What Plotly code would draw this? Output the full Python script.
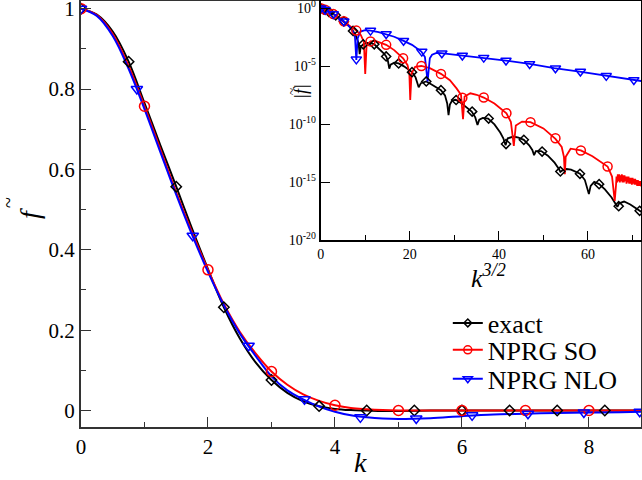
import plotly.graph_objects as go

# ---------------- main panel data (k, f~) ----------------
k_line = [0, 0.25, 0.5, 0.75, 1.0, 1.25, 1.5, 1.75, 2.0, 2.25, 2.5, 2.75, 3.0, 3.25, 3.5,
          3.75, 4.0, 4.25, 4.5, 4.75, 5.0, 5.5, 6.0, 6.5, 7.0, 7.5, 8.0, 8.5, 8.82]
exact_line = [1.000, 0.985, 0.943, 0.868, 0.765, 0.660, 0.557, 0.452, 0.352, 0.257, 0.180, 0.120,
              0.076, 0.044, 0.023, 0.011, 0.004, 0.001, 0.0, -0.001, -0.001, 0, 0, 0, 0, 0, 0, 0, 0]
so_line = [1.000, 0.984, 0.937, 0.857, 0.757, 0.650, 0.543, 0.443, 0.350, 0.265, 0.196, 0.142,
           0.097, 0.064, 0.040, 0.024, 0.013, 0.006, 0.003, 0.001, 0.0, 0, 0, 0, 0, 0, 0, 0, 0]
nlo_line = [1.000, 0.982, 0.932, 0.850, 0.750, 0.643, 0.537, 0.437, 0.345, 0.262, 0.192, 0.136,
            0.085, 0.050, 0.028, 0.010, -0.003, -0.012, -0.017, -0.020, -0.021, -0.019, -0.014,
            -0.010, -0.008, -0.006, -0.005, -0.004, -0.003]

k_exact_pts = [0, 0.75, 1.5, 2.25, 3.0, 3.75, 4.5, 5.25, 6.0, 6.75, 7.5, 8.25]
exact_pts = [1.0, 0.868, 0.557, 0.257, 0.076, 0.011, 0.0, 0.0, 0.0, 0.0, 0.0, 0.0]
k_so_pts = [0, 1, 2, 3, 4, 5, 6, 7, 8]
so_pts = [1.0, 0.757, 0.350, 0.097, 0.013, 0.0, 0.0, 0.0, 0.0]
k_nlo_pts = [0, 0.88, 1.76, 2.64, 3.52, 4.40, 5.28, 6.16, 7.04, 7.92, 8.80]
nlo_pts = [1.0, 0.80, 0.435, 0.161, 0.028, -0.017, -0.020, -0.012, -0.008, -0.005, -0.003]

# ---------------- inset data (k^{3/2}, log10 |f~|) ----------------
ins_exact_x = [0, 0.65, 1.84, 3.38, 5.2, 6.3, 7.26, 8.0, 8.5, 8.75, 9.0, 9.55, 10.5, 11.3, 12.03,
               13.2, 14.2, 14.7, 15.1, 15.4, 15.7, 16.5, 17.5, 18.7, 19.7, 20.5, 21.3, 22.0, 22.5,
               23.7, 24.8, 26.0, 27.0, 27.9, 28.4, 28.7, 29.0, 29.5, 30.3, 31.5, 32.8, 33.9, 34.7,
               35.2, 35.6, 36.4, 37.6, 39.0, 40.3, 41.0, 41.5, 42.0, 43.3, 44.4, 45.6, 46.8, 47.5,
               47.9, 48.3, 49.5, 51.0, 52.5, 53.4, 53.8, 54.3, 55.2, 56.2, 58.2, 59.3, 59.9, 60.2,
               60.6, 61.4, 62.5, 63.8, 65.3, 66.3, 66.6, 67.0, 68.1, 69.5, 71.6, 72.0]
ins_exact_log = [0, -0.1, -0.3, -0.6, -1.12, -1.5, -1.95, -2.45, -3.0, -3.95, -3.3, -3.1, -2.98, -3.0,
                 -3.1, -3.5, -3.9, -4.15, -4.55, -5.2, -4.85, -4.68, -4.75, -5.0, -5.25, -5.5, -5.95,
                 -6.8, -6.45, -6.3, -6.55, -6.85, -7.05, -7.5, -8.2, -9.2, -8.3, -7.95, -7.88, -8.15,
                 -8.55, -8.9, -9.4, -10.05, -9.6, -9.45, -9.5, -10.0, -10.7, -11.2, -11.8, -11.2,
                 -11.05, -11.15, -11.33, -11.8, -12.2, -12.65, -12.3, -12.3, -12.7, -13.3, -13.8,
                 -14.1, -13.95, -13.85, -13.9, -14.26, -14.8, -15.5, -16.0, -15.3, -14.95, -15.15,
                 -15.6, -16.3, -16.9, -17.1, -16.8, -16.65, -16.9, -17.45, -17.55]

ins_so_x = [0, 1, 2.83, 5.2, 6.5, 8.0, 9.0, 9.7, 10.0, 10.3, 11.18, 12.3, 14.7, 16.5, 18.5, 19.5,
            19.9, 20.1, 20.4, 21.2, 22.6, 24.5, 27.0, 29.0, 30.5, 31.5, 31.95, 32.3, 33.6, 35.0,
            36.6, 39.0, 41.7, 42.7, 43.35, 43.8, 45.2, 47.1, 50.0, 52.7, 54.1, 54.6, 54.8, 55.0,
            56.1, 58.4, 61.0, 64.4, 65.4, 66.0, 66.3,
            66.40, 66.55, 66.70, 66.85, 67.00, 67.15, 67.30, 67.45, 67.60, 67.75, 67.90, 68.05,
            68.20, 68.35, 68.50, 68.65, 68.80, 68.95, 69.10, 69.25, 69.40, 69.55, 69.70, 69.85,
            70.00, 70.15, 70.30, 70.45, 70.60, 70.75, 70.90, 71.05, 71.20, 71.35, 71.50, 71.65,
            71.80, 71.95]
ins_so_log = [0, -0.13, -0.5, -1.12, -1.5, -1.92, -2.3, -2.9, -5.65, -3.2, -2.85, -2.8, -3.15, -3.6,
              -4.3, -4.9, -5.6, -7.9, -5.6, -5.05, -4.97, -5.15, -5.65, -6.2, -6.9, -7.45, -9.55,
              -7.6, -7.32, -7.45, -7.69, -8.2, -9.04, -9.8, -11.85, -10.1, -9.76, -9.81, -10.35,
              -11.25, -11.95, -12.8, -14.3, -12.8, -12.1, -12.25, -12.75, -13.63, -14.5, -16.6,
              -15.2,
              -14.5, -15.0, -14.3, -14.9, -14.3, -15.0, -14.4, -14.9, -14.3, -15.0, -14.4, -15.0,
              -14.4, -14.9, -14.5, -15.1, -14.5, -15.0, -14.5, -15.1, -14.6, -15.1, -14.6, -15.2,
              -14.6, -15.1, -14.7, -15.2, -14.7, -15.2, -14.8, -15.3, -14.8, -15.3, -14.9, -15.3,
              -14.9, -15.35]

ins_nlo_x = [0, 1, 2.83, 5.2, 6.5, 7.3, 7.7, 8.0, 8.3, 8.9, 10.0, 11.18, 13.0, 14.7, 16.5, 18.5,
             20.5, 22.6, 23.4, 24.0, 24.5, 25.0, 26.0, 27.0, 31.6, 36.5, 41.6, 46.9, 52.4, 58.1,
             64.0, 70.1, 72.0]
ins_nlo_log = [0, -0.13, -0.5, -1.12, -1.6, -2.05, -2.5, -4.45, -2.6, -2.0, -1.88, -1.92, -2.05,
               -2.22, -2.45, -2.78, -3.15, -3.73, -4.2, -6.3, -4.3, -4.0, -3.85, -3.87, -4.07,
               -4.25, -4.5, -4.79, -5.16, -5.45, -5.82, -6.17, -6.27]

ins_exact_px = [0, 0.65, 1.84, 3.38, 5.2, 7.26, 9.55, 12.03, 14.7, 17.5, 20.5, 23.7, 27.0, 30.4,
                34.0, 37.7, 41.6, 45.6, 49.7, 53.8, 58.2, 62.5, 66.9, 71.6]
ins_exact_plog = [0, -0.1, -0.3, -0.6, -1.12, -1.95, -3.1, -3.1, -4.15, -4.75, -5.5, -6.3, -7.05,
                  -7.9, -8.9, -9.5, -11.7, -11.33, -12.34, -14.06, -14.26, -15.15, -17.05, -17.45]
ins_so_px = [0, 1, 2.83, 5.2, 8.0, 11.18, 14.7, 18.5, 22.6, 27.0, 31.8, 36.6, 41.7, 47.1, 52.7,
             58.4, 64.4]
ins_so_plog = [0, -0.13, -0.5, -1.12, -1.92, -2.85, -3.15, -4.3, -4.97, -5.65, -7.7, -7.69, -9.04,
               -9.81, -11.2, -12.25, -13.63]
ins_nlo_px = [0, 1, 2.83, 5.2, 8.0, 11.18, 14.7, 18.6, 22.7, 27.2, 31.8, 36.6, 41.6, 46.9, 52.7,
              58.3, 64.1, 70.3]
ins_nlo_plog = [0, -0.13, -0.5, -1.12, -4.4, -1.92, -2.22, -2.79, -3.73, -3.87, -4.07, -4.25, -4.5,
                -4.79, -5.16, -5.45, -5.82, -6.17]

names = ["exact", "NPRG SO", "NPRG NLO"]
colors = ["#000000", "#ff0000", "#0000ff"]
symbols = ["diamond-open", "circle-open", "triangle-down-open"]
msizes = [8, 10, 10]
legend_ids = ["legend", "legend2", "legend3"]

FONT = "Liberation Serif"

fig = go.Figure()

main_lines = [(k_line, exact_line), (k_line, so_line), (k_line, nlo_line)]
main_pts = [(k_exact_pts, exact_pts), (k_so_pts, so_pts), (k_nlo_pts, nlo_pts)]
ins_lines = [(ins_exact_x, ins_exact_log), (ins_so_x, ins_so_log), (ins_nlo_x, ins_nlo_log)]
ins_pts = [(ins_exact_px, ins_exact_plog), (ins_so_px, ins_so_plog), (ins_nlo_px, ins_nlo_plog)]

for i in range(3):
    lx, ly = main_lines[i]
    fig.add_trace(go.Scatter(x=lx, y=ly, mode="lines", line=dict(color=colors[i], width=2, shape="spline"),
                             showlegend=False, hoverinfo="skip"))
for i in range(3):
    px_, py_ = main_pts[i]
    fig.add_trace(go.Scatter(x=px_, y=py_, mode="markers",
                             marker=dict(symbol=symbols[i], size=msizes[i], color=colors[i],
                                         line=dict(color=colors[i], width=1.5)),
                             showlegend=False))
# legend entries (one legend box per series so spacing can match)
for i in range(3):
    fig.add_trace(go.Scatter(x=[None], y=[None], mode="lines+markers", name=names[i],
                             legend=legend_ids[i],
                             line=dict(color=colors[i], width=2),
                             marker=dict(symbol=symbols[i], size=msizes[i] - 2, color=colors[i],
                                         line=dict(color=colors[i], width=1.5))))

# inset
for i in range(3):
    lx, ly = ins_lines[i]
    fig.add_trace(go.Scatter(x=lx, y=[10 ** v for v in ly], mode="lines",
                             line=dict(color=colors[i], width=1.8),
                             xaxis="x2", yaxis="y2", showlegend=False, hoverinfo="skip"))
for i in range(3):
    px_, py_ = ins_pts[i]
    fig.add_trace(go.Scatter(x=px_, y=[10 ** v for v in py_], mode="markers",
                             marker=dict(symbol=symbols[i], size=msizes[i] - 1, color=colors[i],
                                         line=dict(color=colors[i], width=1.5)),
                             xaxis="x2", yaxis="y2", showlegend=False))

W, H = 642, 480
ml, mr, mt, mb = 81, 1, 1, 53


def leg(yc):
    return dict(x=0.655, y=yc, xanchor="left", yanchor="middle", bgcolor="rgba(0,0,0,0)",
                font=dict(family=FONT, size=26), itemwidth=30)


def px(xp, yp):
    # figure pixel -> paper fraction of the plot area
    return (xp - ml) / (W - ml - mr), (H - mb - yp) / (H - mt - mb)


fx, fy = px(29, 214)
tx, ty = px(8, 203)
ix, iy = px(301, 92)
itx, ity = px(292, 92)
kx, ky = px(360, 463)
k2x, k2y = px(488, 276)

fig.update_layout(
    width=W, height=H, autosize=False,
    margin=dict(l=ml, r=mr, t=mt, b=mb, pad=0, autoexpand=False),
    paper_bgcolor="white", plot_bgcolor="white",
    font=dict(family=FONT, size=21, color="black"),
    xaxis=dict(range=[0, 8.82], tickvals=[0, 2, 4, 6, 8], ticktext=["0", "2", "4", "6", "8"],
               ticks="inside", ticklen=10, tickwidth=1.2, tickcolor="#333", automargin=False,
               ticklabeloverflow="allow",
               minor=dict(ticks="inside", ticklen=5, dtick=1, tick0=0, tickcolor="#333", tickwidth=1.2),
               showline=True, linecolor="#333", linewidth=2, mirror=True,
               showgrid=False, zeroline=False, tickfont=dict(size=21)),
    yaxis=dict(range=[-0.041, 1.019], tickvals=[0, 0.2, 0.4, 0.6, 0.8, 1.0],
               ticktext=["0", "0.2", "0.4", "0.6", "0.8", "1"], automargin=False,
               ticklabeloverflow="allow",
               ticks="inside", ticklen=10, tickwidth=1.2, tickcolor="#333",
               minor=dict(ticks="inside", ticklen=5, dtick=0.1, tick0=0, tickcolor="#333", tickwidth=1.2),
               showline=True, linecolor="#333", linewidth=2, mirror=True,
               showgrid=False, zeroline=False, tickfont=dict(size=21)),
    xaxis2=dict(domain=[0.428, 1.0], anchor="y2", range=[0, 71.9], automargin=False,
                tickvals=[0, 20, 40, 60], ticktext=["0", "20", "40", "60"],
                ticklabeloverflow="allow",
                ticks="inside", ticklen=9, tickwidth=1.2, tickcolor="black",
                minor=dict(ticks="inside", ticklen=5, dtick=10, tick0=0, tickcolor="black", tickwidth=1.2),
                showline=True, linecolor="black", linewidth=2, mirror=True,
                showgrid=False, zeroline=False, tickfont=dict(size=14)),
    yaxis2=dict(domain=[0.438, 1.0], anchor="x2", type="log", range=[-20, 0.63], automargin=False,
                tickvals=[1, 1e-5, 1e-10, 1e-15, 1e-20],
                ticktext=["10<sup>0</sup>", "10<sup>-5</sup>", "10<sup>-10</sup>",
                          "10<sup>-15</sup>", "10<sup>-20</sup>"],
                ticklabeloverflow="allow",
                ticks="inside", ticklen=9, tickwidth=1.2, tickcolor="black",
                showline=True, linecolor="black", linewidth=2, mirror=True,
                showgrid=False, zeroline=False, tickfont=dict(size=14)),
    legend=leg(0.244),
    legend2=leg(0.181),
    legend3=leg(0.113),
    annotations=[
        dict(text="<i>k</i>", x=kx, y=ky, xref="paper", yref="paper", showarrow=False,
             xanchor="center", yanchor="middle", font=dict(size=28)),
        dict(text="<i>f</i>", x=fx, y=fy, xref="paper", yref="paper", showarrow=False,
             xanchor="center", yanchor="middle", textangle=-90, font=dict(size=28)),
        dict(text="~", x=tx, y=ty, xref="paper", yref="paper", showarrow=False,
             xanchor="center", yanchor="middle", textangle=-90, font=dict(size=20)),
        dict(text="<i>k</i><sup><i>3/2</i></sup>", x=k2x, y=k2y, xref="paper", yref="paper",
             showarrow=False, xanchor="center", yanchor="middle", font=dict(size=26)),
        dict(text="<i>|f|</i>", x=ix, y=iy, xref="paper", yref="paper", showarrow=False,
             xanchor="center", yanchor="middle", textangle=-90, font=dict(size=18)),
        dict(text="~", x=itx, y=ity, xref="paper", yref="paper", showarrow=False,
             xanchor="center", yanchor="middle", textangle=-90, font=dict(size=13)),
    ],
)

fig.write_html("out.html", config={"displayModeBar": False},
               post_script="document.body.style.margin='0';")
